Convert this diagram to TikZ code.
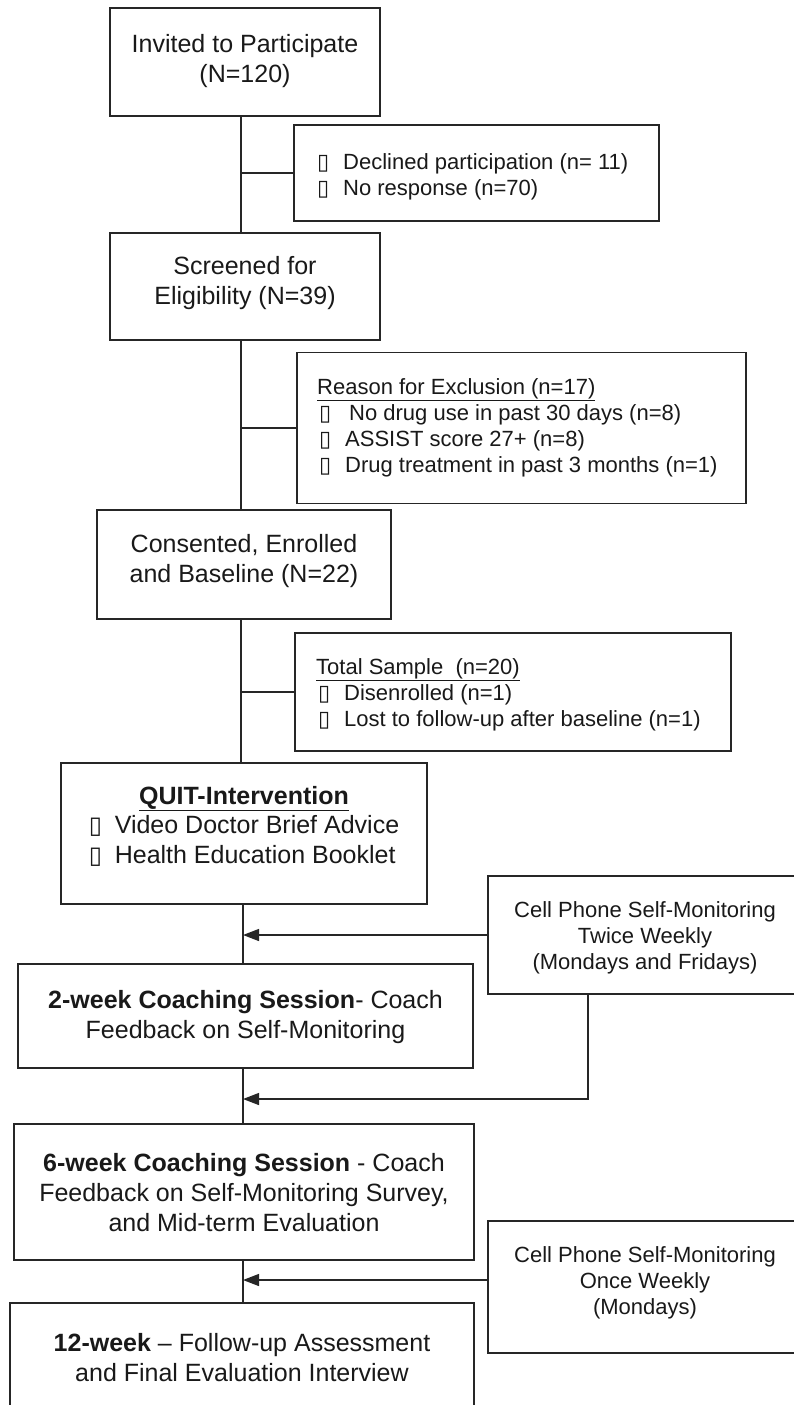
\documentclass[tikz,border=0pt]{standalone}
\usepackage{fontspec}
\setmainfont{Liberation Sans}
\newfontfamily\symfont{DejaVu Sans}
\usetikzlibrary{arrows.meta}
\newcommand{\bulS}{\makebox[26pt][l]{\symfont\fontsize{22}{22}\selectfont ▯}}
\newcommand{\bulM}{\makebox[26pt][l]{\symfont\fontsize{24}{24}\selectfont ▯}}
\tikzset{
  box/.style={draw=black!85, line width=1.3pt, inner sep=0pt, fill=none},
  maintxt/.style={font=\fontsize{25}{30}\selectfont, align=center, text=black!90, inner sep=0pt},
  sidetxt/.style={font=\fontsize{22}{26}\selectfont, align=left, text=black!90, inner sep=0pt, anchor=west},
  celltxt/.style={font=\fontsize{22}{26}\selectfont, align=center, text=black!90, inner sep=0pt},
  conn/.style={draw=black!85, line width=1.3pt},
  arr/.style={conn, -{Triangle[length=16pt,width=12pt]}}
}
\begin{document}
\begin{tikzpicture}[x=1pt,y=-1pt]
\path[use as bounding box] (0,0) rectangle (794,1405);
\fill[white] (0,0) rectangle (794,1405);
\clip (0,0) rectangle (794,1405);

% boxes
\node[box, minimum width=270pt, minimum height=108pt] (invited) at (245,62) {};
\node[box, minimum width=365pt, minimum height=96pt] (declined) at (476.5,173) {};
\node[box, minimum width=270pt, minimum height=107pt] (screened) at (245,286.5) {};
\node[box, minimum width=449pt, minimum height=151pt] (exclusion) at (521.5,428) {};
\node[box, minimum width=294pt, minimum height=109pt] (consented) at (244,564.5) {};
\node[box, minimum width=436pt, minimum height=118pt] (total) at (513,692) {};
\node[box, minimum width=366pt, minimum height=141pt] (quit) at (244,833.5) {};
\node[box, minimum width=314pt, minimum height=118pt] (cell1) at (645,935) {};
\node[box, minimum width=455pt, minimum height=104pt] (week2) at (245.5,1016) {};
\node[box, minimum width=460pt, minimum height=136pt] (week6) at (244,1192) {};
\node[box, minimum width=314pt, minimum height=132pt] (cell2) at (645,1287) {};
\node[box, minimum width=464pt, minimum height=106pt] (week12) at (242,1356) {};

% texts
\node[maintxt] (invitedT) at (245,61) {Invited to Participate\\(N=120)};
\node[sidetxt] (declinedT) at (317,177) {\bulS Declined participation (n= 11)\\\bulS No response (n=70)};
\node[maintxt] (screenedT) at (245,283) {Screened for\\Eligibility (N=39)};
\node[sidetxt] (exclusionT) at (317,428) {\underline{Reason for Exclusion (n=17)}\\\hspace{2pt}\bulS\hspace{4pt}No drug use in past 30 days (n=8)\\\hspace{2pt}\bulS ASSIST score 27+ (n=8)\\\hspace{2pt}\bulS Drug treatment in past 3 months (n=1)};
\node[maintxt] (consentedT) at (244,561) {Consented, Enrolled\\and Baseline (N=22)};
\node[sidetxt] (totalT) at (316,695) {\underline{Total Sample\ \ (n=20)}\\\hspace{2pt}\bulS Disenrolled (n=1)\\\hspace{2pt}\bulS Lost to follow-up after baseline (n=1)};
\node[maintxt] (quitT) at (244,829) {\underline{\textbf{QUIT-Intervention}}\\\begin{tabular}{@{}l@{}}\bulM Video Doctor Brief Advice\\\bulM Health Education Booklet\end{tabular}};
\node[celltxt] (cell1T) at (645,938) {Cell Phone Self-Monitoring\\Twice Weekly\\(Mondays and Fridays)};
\node[maintxt] (week2T) at (245.5,1017) {\textbf{2-week Coaching Session}- Coach\\Feedback on Self-Monitoring};
\node[maintxt] (week6T) at (244,1193) {\textbf{6-week Coaching Session} - Coach\\Feedback on Self-Monitoring Survey,\\and Mid-term Evaluation};
\node[celltxt] (cell2T) at (645,1283) {Cell Phone Self-Monitoring\\Once Weekly\\(Mondays)};
\node[maintxt] (week12T) at (242,1358) {\textbf{12-week} \textendash{} Follow-up Assessment\\and Final Evaluation Interview};

% trunk
\coordinate (tA) at (241,0);
\coordinate (tB) at (243,0);
\draw[conn] (invited.south -| tA) -- (screened.north -| tA);
\draw[conn] (screened.south -| tA) -- (consented.north -| tA);
\draw[conn] (consented.south -| tA) -- (quit.north -| tA);
\draw[conn] (quit.south -| tB) -- (week2.north -| tB);
\draw[conn] (week2.south -| tB) -- (week6.north -| tB);
\draw[conn] (week6.south -| tB) -- (week12.north -| tB);

% branches
\draw[conn] (declined.west -| tA) -- (declined.west);
\draw[conn] (exclusion.west -| tA) -- (exclusion.west);
\draw[conn] (total.west -| tA) -- (total.west);

% arrows
\draw[arr] (cell1.west) -- (cell1.west -| tB);
\coordinate (elbow) at (588,1099);
\draw[arr] (cell1.south -| elbow) -- (elbow) -- (elbow -| tB);
\draw[arr] ([yshift=7pt]cell2.west) -- ([yshift=7pt]cell2.west -| tB);
\end{tikzpicture}
\end{document}
